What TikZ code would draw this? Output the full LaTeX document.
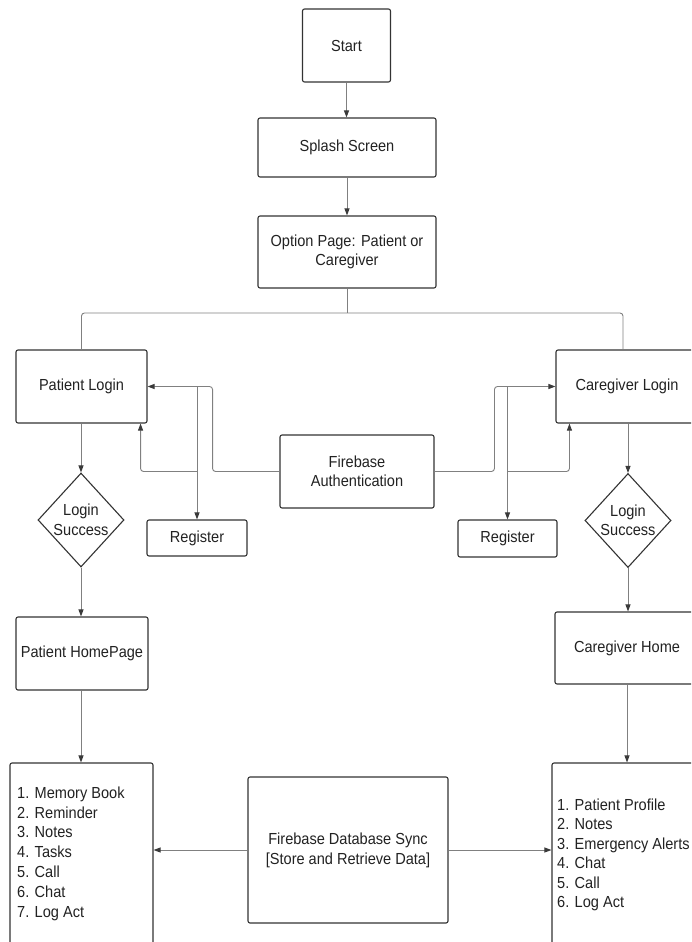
\documentclass[tikz,border=0pt]{standalone}
\usepackage{fontspec}
\setmainfont{Liberation Sans}[FakeStretch=0.91]
\usetikzlibrary{shapes.geometric,arrows.meta,calc}
\definecolor{edgec}{HTML}{333333}
\definecolor{wirec}{HTML}{808080}
\definecolor{tipc}{HTML}{3A3A3A}
\definecolor{inkc}{HTML}{222222}
\begin{document}
\begin{tikzpicture}[x=1pt,y=-1pt,
  font=\fontsize{16}{19.5}\selectfont,
  box/.style={draw=edgec, line width=1.1pt, rounded corners=2pt, inner sep=0pt, text=inkc, align=center},
  dia/.style={draw=edgec, line width=1.1pt, diamond, aspect=0.915, inner sep=0pt, text=inkc, align=center, minimum width=86pt, minimum height=94pt},
  listtext/.style={anchor=west, align=left, inner sep=0pt, text=inkc},
  conn/.style={draw=wirec, line width=0.9pt, rounded corners=3pt},
  arr/.style={conn, -{Triangle[length=7pt,width=5pt,color=tipc]}}
]
\fill[white] (0,0) rectangle (691,942);
\useasboundingbox (0,0) rectangle (691,942);
\clip (0,0) rectangle (691,942);

% top chain
\node[box, minimum width=88pt, minimum height=73pt] (start) at (346.5,45.5) {Start};
\node[box, minimum width=178pt, minimum height=59pt] (splash) at (347,147.5) {Splash Screen};
\node[box, minimum width=178pt, minimum height=72pt] (option) at (347,252) {Option Page: Patient or\\Caregiver};

% logins
\node[box, minimum width=131pt, minimum height=73pt] (plogin) at (81.5,386.5) {Patient Login};
\node[box, minimum width=142pt, minimum height=73pt] (clogin) at (627,386.5) {Caregiver Login};

% auth and register
\node[box, minimum width=154pt, minimum height=73pt] (fauth) at (357,471.5) {Firebase\\Authentication};
\node[box, minimum width=100pt, minimum height=36pt] (reg1) at (197,538) {Register};
\node[box, minimum width=99pt, minimum height=37pt] (reg2) at (507.5,538.5) {Register};

% decisions
\node[dia] (ls1) at (81,520) {Login\\Success};
\node[dia] (ls2) at (628,520.5) {Login\\Success};

% homes
\node[box, minimum width=132pt, minimum height=73pt] (phome) at (82,653.5) {Patient HomePage};
\node[box, minimum width=144pt, minimum height=72pt] (chome) at (627,648) {Caregiver Home};

% bottom
\node[box, minimum width=143pt, minimum height=200pt] (plist) at (81.5,863) {};
\node[listtext, font=\fontsize{16}{19.8}\selectfont] (plisttxt) at (17,853.5)
  {1. Memory Book\\2. Reminder\\3. Notes\\4. Tasks\\5. Call\\6. Chat\\7. Log Act};
\node[box, minimum width=150pt, minimum height=200pt] (clist) at (627,863) {};
\node[listtext, font=\fontsize{16}{19.5}\selectfont] (clisttxt) at (557,855)
  {1. Patient Profile\\2. Notes\\3. Emergency Alerts\\4. Chat\\5. Call\\6. Log Act};
\node[box, minimum width=200pt, minimum height=146pt, font=\fontsize{16}{20}\selectfont] (fdb) at (348,850) {Firebase Database Sync\\{[}Store and Retrieve Data{]}};

% connectors: top chain
\draw[arr] (start.south) -- (start.south |- splash.north);
\draw[arr] (splash.south) -- (option.north);
\coordinate (split) at (347,313);
\draw[conn] (option.south) -- (split);
\draw[conn] (plogin.north) |- (split) -| ($(clogin.north)+(-4,0)$);

% left authentication wiring
\draw[arr] (fauth.west) -| ($(plogin.east)+(65,0)$) -- (plogin.east);
\draw[arr] (plogin.east -| reg1.north) -- (reg1.north);
\draw[arr] (reg1.north |- fauth.west) -| ($(plogin.south east)+(-7,0)$);

% right authentication wiring
\draw[arr] (fauth.east) -| ($(clogin.west)+(-61,0)$) -- (clogin.west);
\draw[arr] (clogin.west -| reg2.north) -- (reg2.north);
\draw[arr] (reg2.north |- fauth.east) -| ($(clogin.south west)+(14,0)$);

% login flow
\draw[arr] (plogin.south -| ls1.north) -- (ls1.north);
\draw[arr] (ls1.south) -- (ls1.south |- phome.north);
\draw[arr] (phome.south -| 81,0) -- (plist.north -| 81,0);
\draw[arr] (clogin.south -| ls2.north) -- (ls2.north);
\draw[arr] (ls2.south) -- (ls2.south |- chome.north);
\draw[arr] (chome.south) -- (chome.south |- clist.north);

% database sync
\draw[arr] (fdb.west) -- (fdb.west -| plist.east);
\draw[arr] (fdb.east) -- (fdb.east -| clist.west);
\end{tikzpicture}
\end{document}
